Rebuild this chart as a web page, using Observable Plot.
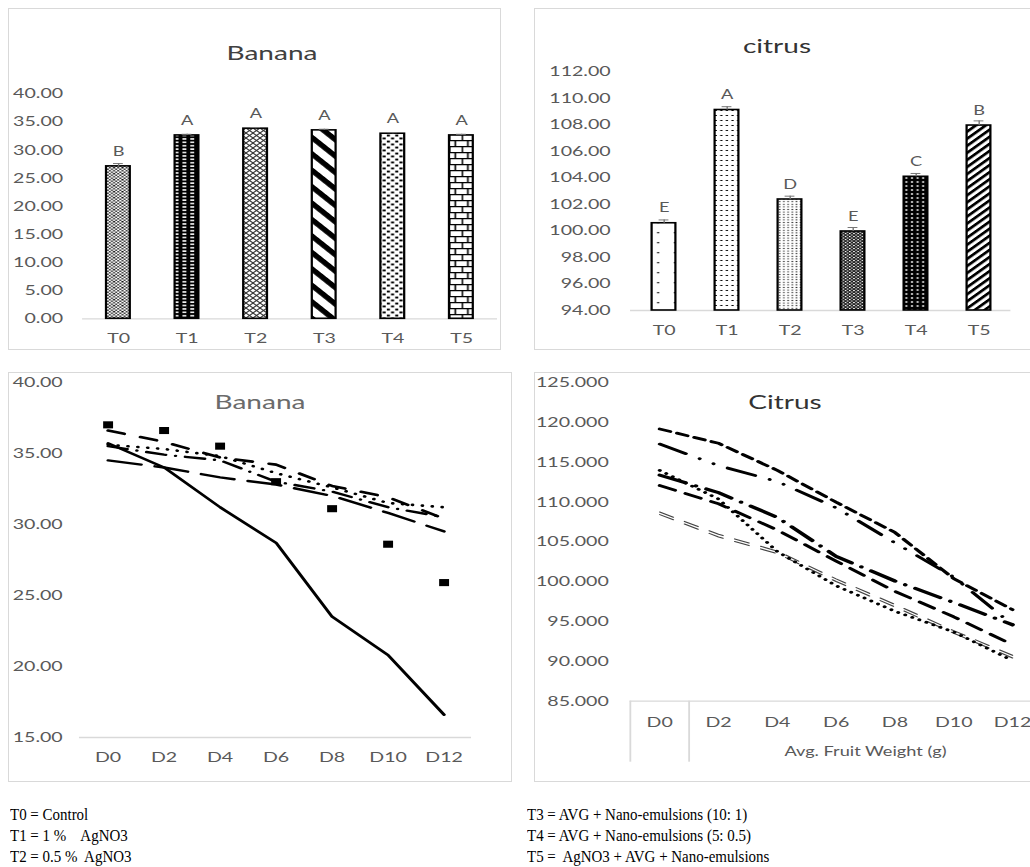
<!DOCTYPE html>
<html><head><meta charset="utf-8">
<script src="https://cdn.jsdelivr.net/npm/d3@7"></script>
<script src="https://cdn.jsdelivr.net/npm/@observablehq/plot@0.6"></script>
<style>
html,body{margin:0;padding:0;background:#fff;width:1030px;height:867px;overflow:hidden;position:relative}
.box{position:absolute;border:1px solid #d9d9d9;box-sizing:border-box}
.chart{position:absolute;transform-origin:0 0;transform:scaleX(1.4)}
.title{position:absolute;font-family:Lato,sans-serif;font-size:20px;white-space:nowrap;transform:translate(-50%,-50%) scaleX(1.4)}
.cap{position:absolute;font-family:"Liberation Serif",serif;font-size:17px;white-space:pre;color:#000;line-height:17px;transform-origin:0 50%;transform:scaleX(0.88)}
</style></head><body>
<script>
// ---------------- data ----------------
const treatments = ["T0", "T1", "T2", "T3", "T4", "T5"];
const bananaWeight = [27.1, 32.6, 33.8, 33.5, 32.9, 32.6];
const bananaErr = [0.5, 0.2, 0.2, 0.2, 0.2, 0.2];
const bananaLetters = ["B", "A", "A", "A", "A", "A"];
const bananaBarTicks = [0, 5, 10, 15, 20, 25, 30, 35, 40];

const citrusWeight = [100.57, 109.1, 102.36, 99.95, 104.07, 107.93];
const citrusErr = [0.25, 0.25, 0.25, 0.3, 0.25, 0.35];
const citrusLetters = ["E", "A", "D", "E", "C", "B"];
const citrusBarTicks = [94, 96, 98, 100, 102, 104, 106, 108, 110, 112];

const days = ["D0", "D2", "D4", "D6", "D8", "D10", "D12"];
const bananaT0 = [35.7, 34.0, 31.2, 28.7, 23.5, 20.8, 16.6];
const bananaT1 = [37.0, 36.6, 35.5, 33.0, 31.1, 28.6, 25.9];
const bananaT2 = [36.6, 35.8, 34.7, 34.2, 32.7, 31.9, 30.4];
const bananaT3 = [35.6, 35.3, 34.8, 33.6, 32.6, 31.5, 31.2];
const bananaT4 = [35.5, 34.9, 34.5, 33.0, 32.3, 31.2, 30.5];
const bananaT5 = [34.5, 34.0, 33.3, 32.8, 32.0, 30.8, 29.5];
const bananaLineTicks = [15, 20, 25, 30, 35, 40];

const citrusA = [119.2, 117.4, 114.0, 110.0, 106.2, 100.4, 96.5];
const citrusB = [117.3, 114.6, 112.6, 109.3, 104.9, 100.6, 94.6];
const citrusC = [113.4, 111.2, 108.1, 103.2, 100.1, 97.4, 94.6];
const citrusD = [112.1, 109.8, 106.5, 102.6, 98.8, 95.6, 92.1];
const citrusE = [114.0, 110.4, 103.8, 99.5, 96.3, 93.7, 90.1];
const citrusF = [108.6, 105.8, 103.7, 100.2, 97.0, 93.7, 90.6];
const citrusLineTicks = [85, 90, 95, 100, 105, 110, 115, 120, 125];
const citrusAxisTitle = "Avg. Fruit Weight (g)";

const titles = ["Banana", "citrus", "Banana", "Citrus"];
const legendLeft = ["T0 = Control", "T1 = 1 %    AgNO3", "T2 = 0.5 %  AgNO3"];
const legendRight = ["T3 = AVG + Nano-emulsions (10: 1)", "T4 = AVG + Nano-emulsions (5: 0.5)", "T5 =  AgNO3 + AVG + Nano-emulsions"];

// ---------------- patterns ----------------
const BANANA_PATTERNS = `
<pattern id="bp0" width="6" height="6" patternUnits="userSpaceOnUse">
 <rect width="6" height="6" fill="#fff"/>
 <rect x="0" y="0" width="1.5" height="1.5" fill="#444"/><rect x="3" y="0" width="1.5" height="1.5" fill="#444"/>
 <rect x="1.5" y="1.5" width="1.5" height="1.5" fill="#444"/><rect x="4.5" y="1.5" width="1.5" height="1.5" fill="#444"/>
 <rect x="0" y="3" width="1.5" height="1.5" fill="#444"/><rect x="3" y="3" width="1.5" height="1.5" fill="#000"/>
 <rect x="1.5" y="4.5" width="1.5" height="1.5" fill="#444"/><rect x="4.5" y="4.5" width="1.5" height="1.5" fill="#444"/>
</pattern>
<pattern id="bp1" width="5.6" height="3.4" patternUnits="userSpaceOnUse">
 <rect width="5.6" height="3.4" fill="#000"/><rect x="1.4" y="1" width="2.8" height="1.5" fill="#fff"/>
</pattern>
<pattern id="bp2" width="5" height="5" patternUnits="userSpaceOnUse">
 <rect width="5" height="5" fill="#fff"/><path d="M0,0L5,5M5,0L0,5" stroke="#333" stroke-width="0.9"/>
</pattern>
<pattern id="bp3" width="11" height="11" patternUnits="userSpaceOnUse" patternTransform="rotate(48)">
 <rect width="11" height="11" fill="#fff"/><rect width="11" height="4.6" fill="#000"/>
</pattern>
<pattern id="bp4" width="6" height="6" patternUnits="userSpaceOnUse">
 <rect width="6" height="6" fill="#fff"/><rect x="0.6" y="0.6" width="2.2" height="1.9" fill="#000"/><rect x="3.6" y="3.5" width="2.2" height="1.9" fill="#000"/>
</pattern>
<pattern id="bp5" width="9" height="12" patternUnits="userSpaceOnUse">
 <rect width="9" height="12" fill="#fff"/>
 <path d="M0,0.6H9M0,6.6H9M4.5,0.6V6.6M0.5,6.6V12.6" stroke="#000" stroke-width="1.2"/>
</pattern>`;
const CITRUS_PATTERNS = `
<pattern id="cp0" width="12" height="10" patternUnits="userSpaceOnUse">
 <rect width="12" height="10" fill="#fff"/><rect x="4" y="4" width="1.3" height="1.3" fill="#000"/>
</pattern>
<pattern id="cp1" width="4" height="5" patternUnits="userSpaceOnUse">
 <rect width="4" height="5" fill="#fff"/><rect x="1" y="2" width="1.6" height="1" fill="#000"/>
</pattern>
<pattern id="cp2" width="3" height="2.6" patternUnits="userSpaceOnUse">
 <rect width="3" height="2.6" fill="#fff"/><rect x="0.9" y="0.8" width="1.2" height="1" fill="#333"/>
</pattern>
<pattern id="cp3" width="3" height="3" patternUnits="userSpaceOnUse">
 <rect width="3" height="3" fill="#222"/><rect x="0" y="0" width="1.1" height="1.1" fill="#fff"/><rect x="1.5" y="1.5" width="1.1" height="1.1" fill="#fff"/>
</pattern>
<pattern id="cp4" width="4" height="4" patternUnits="userSpaceOnUse">
 <rect width="4" height="4" fill="#000"/><path d="M2,0.9L3.1,2L2,3.1L0.9,2Z" fill="#fff"/>
</pattern>
<pattern id="cp5" width="5" height="5" patternUnits="userSpaceOnUse" patternTransform="rotate(-45)">
 <rect width="5" height="5" fill="#fff"/><rect width="5" height="2.4" fill="#000"/>
</pattern>`;
const bananaPats = ["bp0", "bp1", "bp2", "bp3", "bp4", "bp5"];
const citrusPats = ["cp0", "cp1", "cp2", "cp3", "cp4", "cp5"];

// ---------------- helpers ----------------
const baseStyle = {fontFamily: "Lato, sans-serif", fontSize: "14px", color: "#595959", background: "none", overflow: "visible", maxWidth: "none"};

function box(l, t, w, h) {
  const d = document.createElement("div");
  d.className = "box";
  Object.assign(d.style, {left: l + "px", top: t + "px", width: w + "px", height: h + "px"});
  document.body.appendChild(d);
}
function place(svg, left, top, defs) {
  if (defs) {
    const el = document.createElementNS("http://www.w3.org/2000/svg", "defs");
    el.innerHTML = defs;
    svg.insertBefore(el, svg.firstChild);
  }
  const wrap = document.createElement("div");
  wrap.className = "chart";
  wrap.style.left = left + "px";
  wrap.style.top = top + "px";
  wrap.appendChild(svg);
  document.body.appendChild(wrap);
}
function title(text, cx, cy, color) {
  const d = document.createElement("div");
  d.className = "title";
  d.textContent = text;
  Object.assign(d.style, {left: cx + "px", top: cy + "px", color});
  document.body.appendChild(d);
}

function barPanel(cfg) {
  const rows = treatments.map((t, i) => ({t, v: cfg.values[i], e: cfg.err[i], l: cfg.letters[i], p: cfg.pats[i]}));
  const yMin = cfg.ticks[0];
  return Plot.plot({
    width: cfg.W, height: cfg.H,
    marginLeft: cfg.mL, marginRight: cfg.mR, marginTop: cfg.mT, marginBottom: cfg.mB,
    x: {domain: treatments, paddingInner: cfg.pad, paddingOuter: cfg.pad / 2, tickSize: 0, tickPadding: cfg.xPad, label: null},
    y: {domain: [yMin, cfg.ticks[cfg.ticks.length - 1]], ticks: cfg.ticks, tickFormat: d3.format(".2f"), tickSize: 0, tickPadding: cfg.yPad, label: null},
    style: baseStyle,
    marks: [
      Plot.ruleY([yMin], {stroke: "#d9d9d9", strokeWidth: 1.3}),
      ...rows.map(r => Plot.barY([r], {x: "t", y1: yMin, y2: "v", fill: `url(#${r.p})`, stroke: "#000", strokeWidth: 1.6})),
      Plot.ruleX(rows, {x: "t", y1: "v", y2: d => d.v + d.e, stroke: "#777", strokeWidth: 1}),
      Plot.tickY(rows, {x: "t", y: d => d.v + d.e, stroke: "#777", strokeWidth: 1, insetLeft: 5, insetRight: 5}),
      Plot.text(rows, {x: "t", y: "v", text: "l", dy: -15, fill: "#595959", fontSize: 13})
    ]
  });
}
const ser = (vals, xs) => vals.map((v, i) => ({d: xs[i], v}));

// ---------------- boxes ----------------
box(8, 8, 493, 342);
box(534, 8, 520, 342);
box(8, 372, 504, 410);
box(534, 372, 520, 410);

// ---------------- panel A: banana bars ----------------
place(barPanel({
  values: bananaWeight, err: bananaErr, letters: bananaLetters, pats: bananaPats, ticks: bananaBarTicks,
  W: 352.1, H: 342, mL: 52.9, mR: 2.8, mT: 85.3, mB: 31.7, pad: 0.652, xPad: 14, yPad: 14
}), 8, 8, BANANA_PATTERNS);

// ---------------- panel B: citrus bars ----------------
place(barPanel({
  values: citrusWeight, err: citrusErr, letters: citrusLetters, pats: citrusPats, ticks: citrusBarTicks,
  W: 354.3, H: 342, mL: 68.6, mR: 14, mT: 63, mB: 40, pad: 0.63, xPad: 15, yPad: 14.3
}), 534, 8, CITRUS_PATTERNS);

// ---------------- panel C: banana lines ----------------
{
  const L = (vals) => ser(vals, days);
  const lineOpts = {x: "d", y: "v", stroke: "#000", strokeLinejoin: "round"};
  place(Plot.plot({
    width: 360, height: 410, marginLeft: 50.7, marginRight: 29.3, marginTop: 9.7, marginBottom: 45,
    x: {type: "point", domain: days, padding: 0.5, tickSize: 0, tickPadding: 15, label: null},
    y: {domain: [15, 40], ticks: bananaLineTicks, tickFormat: d3.format(".2f"), tickSize: 0, tickPadding: 12.1, label: null},
    style: baseStyle,
    marks: [
      Plot.ruleY([15], {stroke: "#d9d9d9", strokeWidth: 1.3}),
      Plot.line(L(bananaT0), {...lineOpts, strokeWidth: 2.4}),
      Plot.line(L(bananaT2), {...lineOpts, strokeWidth: 2.6, strokeDasharray: "12,12"}),
      Plot.line(L(bananaT3), {...lineOpts, strokeWidth: 2.6, strokeDasharray: "0.1,7", strokeLinecap: "round"}),
      Plot.line(L(bananaT4), {...lineOpts, strokeWidth: 2.4, strokeDasharray: "14,7,0.1,7", strokeLinecap: "round"}),
      Plot.line(L(bananaT5), {...lineOpts, strokeWidth: 2.4, strokeDasharray: "24,10"}),
      Plot.dot(L(bananaT1), {x: "d", y: "v", symbol: "square", r: 4, fill: "#000", stroke: "none"})
    ]
  }), 8, 372);
}

// ---------------- panel D: citrus lines ----------------
{
  const idx = days.map((d, i) => i);
  const L = (vals) => ser(vals, idx);
  const lineOpts = {x: "d", y: "v", stroke: "#000", strokeLinejoin: "round"};
  const mT = 10.3, mB = 81.3, H = 410;
  const avgX = (1 + (days.length - 1)) / 2;
  place(Plot.plot({
    width: 362.3, height: H, marginLeft: 68.3, marginRight: 0, marginTop: mT, marginBottom: mB,
    x: {domain: [-0.5, days.length - 0.5], ticks: idx, tickFormat: i => days[i], tickSize: 0, tickPadding: 15.4, label: null},
    y: {domain: [85, 125], ticks: citrusLineTicks, tickFormat: d3.format(".3f"), tickSize: 0, tickPadding: 15.4, label: null},
    style: baseStyle,
    marks: [
      Plot.ruleY([85], {stroke: "#d9d9d9", strokeWidth: 1.3}),
      Plot.ruleX([-0.5, 0.5], {stroke: "#d9d9d9", strokeWidth: 1.3, insetTop: H - mT - mB, insetBottom: -61}),
      Plot.text([citrusAxisTitle], {x: [avgX], y: [85], text: d => d, dy: 51, fontSize: 13, fill: "#595959"}),
      Plot.line(L(citrusF), {...lineOpts, stroke: "#444", strokeWidth: 1.1, strokeDasharray: "11,9", dy: -1.3}),
      Plot.line(L(citrusF), {...lineOpts, stroke: "#444", strokeWidth: 1.1, strokeDasharray: "11,9", dy: 1.3}),
      Plot.line(L(citrusE), {...lineOpts, strokeWidth: 2.8, strokeDasharray: "0.1,5.5", strokeLinecap: "round"}),
      Plot.line(L(citrusD), {...lineOpts, strokeWidth: 2.8, strokeDasharray: "12,8"}),
      Plot.line(L(citrusC), {...lineOpts, strokeWidth: 3.2, strokeDasharray: "20,8,0.1,8", strokeLinecap: "round"}),
      Plot.line(L(citrusB), {...lineOpts, strokeWidth: 2.8, strokeDasharray: "21,11,0.1,11,0.1,11", strokeLinecap: "round"}),
      Plot.line(L(citrusA), {...lineOpts, strokeWidth: 2.8, strokeDasharray: "8,5"})
    ]
  }), 534, 372);
}

// ---------------- titles & captions ----------------
title(titles[0], 272, 52, "#404040");
title(titles[1], 777, 45, "#333");
title(titles[2], 260, 401, "#6b6b6b");
title(titles[3], 785, 401, "#333");

function captions(lines, left) {
  lines.forEach((t, i) => {
    const d = document.createElement("div");
    d.className = "cap";
    d.textContent = t;
    d.style.left = left + "px";
    d.style.top = (806 + i * 21) + "px";
    document.body.appendChild(d);
  });
}
captions(legendLeft, 10);
captions(legendRight, 527);
</script>
</body></html>
